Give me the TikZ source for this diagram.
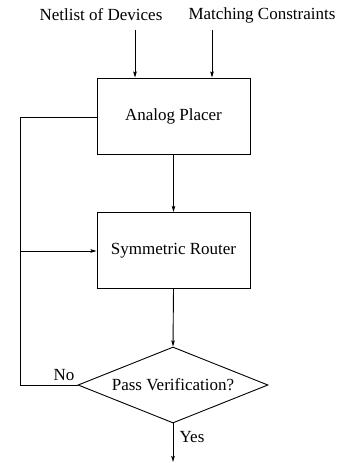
\documentclass[tikz,border=0pt]{standalone}
\usepackage{fontspec}
\setmainfont{Liberation Serif}
\usetikzlibrary{shapes.geometric,arrows.meta}
\begin{document}
\begin{tikzpicture}[x=1pt,y=-1pt,
  font=\fontsize{17}{20}\selectfont,
  line width=0.9pt,
  arr/.style={-{Stealth[length=6pt,width=3.5pt,inset=1pt]}},
  box/.style={draw,minimum width=153pt,minimum height=76pt,inner sep=0pt},
  dec/.style={draw,diamond,aspect=2.5,minimum width=190pt,minimum height=76pt,inner sep=0pt}]
\useasboundingbox (0,0) rectangle (340,463);
\node (netlist) at (101,15) {Netlist of Devices};
\node (match) at (262,15) {Matching Constraints};
\node[box] (placer) at (173.5,116) {Analog Placer};
\node[box] (router) at (173.5,250.5) {Symmetric Router};
\node[dec] (verify) at (173,385) {Pass Verification?};
\coordinate (n1) at (135,30);
\coordinate (m1) at (212,30);
\coordinate (lt) at (20,117);
\coordinate (lb) at (20,385);
\coordinate (lm) at (20,251);
\coordinate (out) at (173,462);
\draw[arr] (n1) -- (n1 |- placer.north);
\draw[arr] (m1) -- (m1 |- placer.north);
\draw[arr] (placer.south) -- (router.north);
\draw[arr] (router.south) -- (verify.north);
\draw (verify.west) -- (lb) -- (lt) -- (placer.west |- lt);
\draw[arr] (lm) -- (router.west |- lm);
\draw[arr] (verify.south) -- (out);
\node at (64,375) {No};
\node at (192,437) {Yes};
\end{tikzpicture}
\end{document}
